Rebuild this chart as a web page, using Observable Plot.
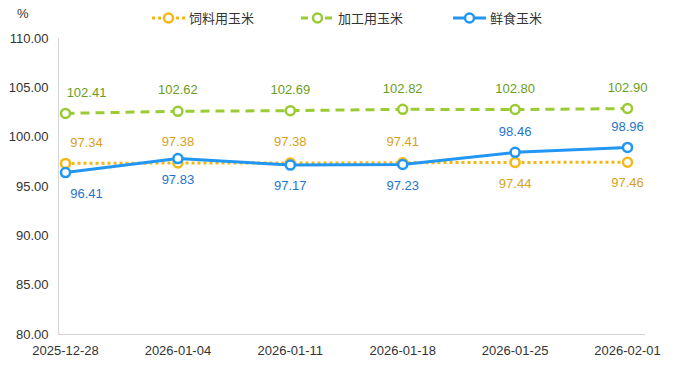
<!DOCTYPE html>
<html>
<head>
<meta charset="utf-8">
<script src="https://cdn.jsdelivr.net/npm/d3@7"></script>
<script src="https://cdn.jsdelivr.net/npm/@observablehq/plot@0.6"></script>
<style>
  html, body { margin: 0; padding: 0; background: #fff; }
  #wrap { position: relative; width: 677px; height: 372px; font-family: "Liberation Sans", Arial, "Noto Sans CJK SC", sans-serif; }
  #legend { position: absolute; left: 0; top: 0; width: 677px; height: 36px; }
  .item { position: absolute; top: 9px; height: 18px; display: flex; align-items: center; font-size: 13px; color: #333; font-family: "Noto Sans CJK SC", sans-serif; line-height: 18px; }
  .item svg { margin-right: 4px; }
  #unit { position: absolute; left: 17px; top: 6px; font-size: 13px; color: #333; }
</style>
</head>
<body>
<div id="wrap">
  <div id="unit">%</div>
  <div id="legend"></div>
</div>
<script>
// ---- data ----
const dates = ["2025-12-28", "2026-01-04", "2026-01-11", "2026-01-18", "2026-01-25", "2026-02-01"];
const seriesNames = ["饲料用玉米", "加工用玉米", "鲜食玉米"];
const feedCorn = [97.34, 97.38, 97.38, 97.41, 97.44, 97.46];
const processCorn = [102.41, 102.62, 102.69, 102.82, 102.80, 102.90];
const freshCorn = [96.41, 97.83, 97.17, 97.23, 98.46, 98.96];
const yTicks = [80, 85, 90, 95, 100, 105, 110];
// label placement per point: 1 = above, -1 = below
const feedLabelSide = [1, 1, 1, 1, -1, -1];
const processLabelSide = [1, 1, 1, 1, 1, 1];
const freshLabelSide = [-1, -1, -1, -1, 1, 1];

// ---- styles ----
const styles = [
  {line: "#f4b71a", label: "#d9a11b", dash: "3,3"},
  {line: "#9acb34", label: "#6a9e22", dash: "9,6"},
  {line: "#2196f3", label: "#1f74cc", dash: null}
];
const valuesList = [feedCorn, processCorn, freshCorn];
const sidesList = [feedLabelSide, processLabelSide, freshLabelSide];

const rows = [];
valuesList.forEach((vals, s) => vals.forEach((v, i) => rows.push({s, i, v, side: sidesList[s][i], name: seriesNames[s]})));

const xDomain = [-0.0623, 5.16];
const marks = [
  Plot.ruleY([80], {stroke: "#d6d6d6", strokeWidth: 1}),
  Plot.ruleX([xDomain[0]], {y1: 80, y2: 110, stroke: "#d6d6d6", strokeWidth: 1})
];
styles.forEach((st, s) => {
  const d = rows.filter(r => r.s === s);
  marks.push(Plot.line(d, {x: "i", y: "v", stroke: st.line, strokeWidth: 3, strokeDasharray: st.dash, strokeLinecap: "butt"}));
  marks.push(Plot.dot(d, {x: "i", y: "v", r: 4.5, fill: "#fff", stroke: st.line, strokeWidth: 2.5}));
});
styles.forEach((st, s) => {
  const d = rows.filter(r => r.s === s);
  for (const side of [1, -1]) {
    for (const first of [true, false]) {
      const sub = d.filter(r => r.side === side && (r.i === 0) === first);
      marks.push(Plot.text(sub, {x: "i", y: "v", text: r => r.v.toFixed(2), dy: side > 0 ? -21 : 21, dx: first ? 21 : 0, fill: st.label, fontSize: 13}));
    }
  }
});

const chart = Plot.plot({
  width: 677,
  height: 372,
  marginTop: 38,
  marginBottom: 38,
  marginLeft: 58,
  marginRight: 32,
  style: {fontFamily: '"Liberation Sans", Arial, sans-serif', fontSize: "13px", color: "#333", background: "transparent"},
  x: {type: "linear", domain: xDomain, ticks: d3.range(dates.length), tickFormat: i => dates[i], tickSize: 0, tickPadding: 11, label: null},
  y: {domain: [80, 110], ticks: yTicks, tickFormat: d => d.toFixed(2), tickSize: 0, tickPadding: 10, label: null},
  marks
});
chart.style.position = "absolute";
chart.style.left = "0";
chart.style.top = "0";
chart.querySelectorAll('g[aria-label="y-axis tick label"] text, g[aria-label="x-axis tick label"] text').forEach(t => t.setAttribute("fill", "#333"));
document.getElementById("wrap").insertBefore(chart, document.getElementById("unit"));

// ---- legend ----
const legendPos = [152, 301, 453];
const legend = document.getElementById("legend");
styles.forEach((st, s) => {
  const div = document.createElement("div");
  div.className = "item";
  div.style.left = legendPos[s] + "px";
  const dashAttr = st.dash ? `stroke-dasharray="${s === 0 ? "3,3" : "7,5"}"` : "";
  div.innerHTML = `<svg width="33" height="14"><line x1="0" y1="7" x2="33" y2="7" stroke="${st.line}" stroke-width="3" ${dashAttr}/>` +
    `<circle cx="16.5" cy="7" r="4.5" fill="#fff" stroke="${st.line}" stroke-width="2.5"/></svg>` +
    `<span>${seriesNames[s]}</span>`;
  legend.appendChild(div);
});
</script>
</body>
</html>
